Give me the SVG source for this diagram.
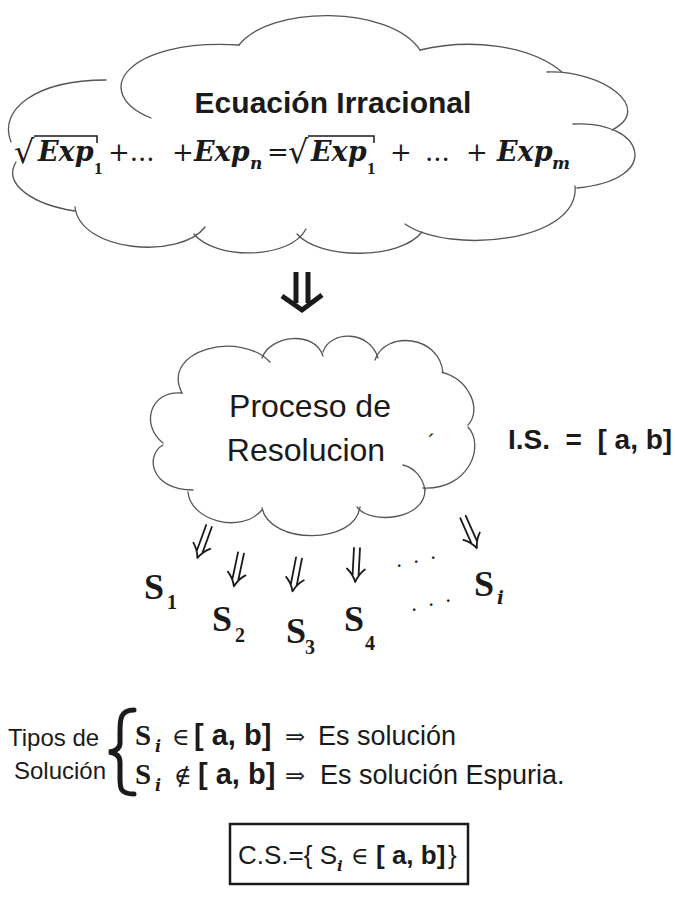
<svg xmlns="http://www.w3.org/2000/svg" width="675" height="902" viewBox="0 0 675 902">
<style>
.cloud{fill:none;stroke:#555;stroke-width:1.3;stroke-linecap:round}
.sans{font-family:"Liberation Sans",Arial,sans-serif;fill:#1a1a1a}
.b{font-weight:bold}
.mi{font-family:"DejaVu Serif","Liberation Serif",serif;font-weight:bold;font-style:italic;fill:#1a1a1a}
.mr{font-family:"DejaVu Serif","Liberation Serif",serif;fill:#1a1a1a}
.ms{font-family:"Liberation Serif","DejaVu Serif",serif;font-weight:bold;fill:#1a1a1a}
.arr{fill:none;stroke:#1a1a1a;stroke-width:1.8;stroke-linecap:round;stroke-linejoin:round}
</style>
<defs>
<g id="dbl">
<path class="arr" d="M-3,0 V28 M3,0 V28 M-9,21 Q-3,26 0,34 Q3,26 9,21"/>
</g>
</defs>
<rect width="675" height="902" fill="#fff"/>

<g id="cloud-top">
<path class="cloud" d="M151,118 C88,92 128,38 239,45"/>
<path class="cloud" d="M239,45 C270,5 390,5 420,50"/>
<path class="cloud" d="M420,50 C470,38 530,45 562,72"/>
<path class="cloud" d="M547,72 C602,70 655,108 612,130"/>
<path class="cloud" d="M573,124 C645,120 664,180 577,188"/>
<path class="cloud" d="M575,186 C580,242 450,255 405,224"/>
<path class="cloud" d="M422,232 C400,260 320,260 297,234"/>
<path class="cloud" d="M306,229 C290,260 215,260 194,234"/>
<path class="cloud" d="M205,227 C180,260 80,252 75,207"/>
<path class="cloud" d="M75,211 C35,205 2,185 16,162"/>
<path class="cloud" d="M11,142 C-2,110 35,80 106,80"/>
<text class="sans b" x="333" y="113" font-size="30" text-anchor="middle">Ecuación Irracional</text>
<g id="equation">
<text class="mr" x="14" y="163" font-size="32">√</text>
<polyline points="34,136 97,136 97,143" fill="none" stroke="#1a1a1a" stroke-width="1.5"/>
<text class="mi" x="38" y="161" font-size="27">Exp</text>
<text class="ms" x="94" y="174" font-size="17">1</text>
<text class="mr" x="108" y="161" font-size="26">+...</text>
<text class="mr" x="172" y="161" font-size="26">+</text>
<text class="mi" x="194" y="161" font-size="27">Exp</text>
<text class="mi" x="250" y="169" font-size="17">n</text>
<text class="mr" x="267" y="161" font-size="26">=</text>
<text class="mr" x="288" y="163" font-size="32">√</text>
<polyline points="308,136 374,136 374,143" fill="none" stroke="#1a1a1a" stroke-width="1.5"/>
<text class="mi" x="311" y="161" font-size="27">Exp</text>
<text class="ms" x="367" y="174" font-size="17">1</text>
<text class="mr" x="390" y="161" font-size="26">+</text>
<text class="mr" x="425" y="161" font-size="26">...</text>
<text class="mr" x="466" y="161" font-size="26">+</text>
<text class="mi" x="497" y="161" font-size="27">Exp</text>
<text class="mi" x="552" y="169" font-size="17">m</text>
</g>
</g>

<g id="cloud-proceso">
<path class="cloud" d="M182,393 C160,350 240,330 270,362"/>
<path class="cloud" d="M262,358 C270,335 315,330 323,356"/>
<path class="cloud" d="M323,352 C330,330 370,330 378,358"/>
<path class="cloud" d="M375,360 C385,330 440,335 443,373"/>
<path class="cloud" d="M442,372 C470,380 482,410 468,425"/>
<path class="cloud" d="M468,427 C485,445 470,490 423,488"/>
<path class="cloud" d="M403,465 C415,468 423,478 425,490"/>
<path class="cloud" d="M425,490 C425,520 370,525 357,507"/>
<path class="cloud" d="M360,507 C355,545 270,545 262,508"/>
<path class="cloud" d="M262,510 C240,535 190,520 188,492"/>
<path class="cloud" d="M193,490 C150,490 145,455 163,445"/>
<path class="cloud" d="M163,443 C140,425 150,390 182,393"/>
<text class="sans" x="310" y="417" font-size="32" text-anchor="middle">Proceso de</text>
<text class="sans" x="306" y="461" font-size="32" text-anchor="middle">Resolucion</text>
<text class="sans" x="428" y="450" font-size="22">´</text>
</g>

<g id="intervalo">
<text class="sans b" x="508" y="449" font-size="28" xml:space="preserve">I.S.  =  [ a, b]</text>
</g>

<g id="connectors">
<path d="M296,272 V303 M308,272 V303 M282,296 L302,310 L322,295" fill="none" stroke="#1a1a1a" stroke-width="5" stroke-linejoin="miter"/>
<use href="#dbl" transform="translate(209,526) rotate(20)"/>
<use href="#dbl" transform="translate(241,553) rotate(12)"/>
<use href="#dbl" transform="translate(299,558) rotate(11)"/>
<use href="#dbl" transform="translate(357,548) rotate(3)"/>
<use href="#dbl" transform="translate(463,517) rotate(-24)"/>
</g>

<g id="soluciones">
<text class="ms" x="144" y="599" font-size="36">S</text><text class="ms" x="167" y="609" font-size="20">1</text>
<text class="ms" x="212" y="631" font-size="36">S</text><text class="ms" x="235" y="642" font-size="20">2</text>
<text class="ms" x="286" y="643" font-size="36">S</text><text class="ms" x="305" y="654" font-size="20">3</text>
<text class="ms" x="344" y="631" font-size="36">S</text><text class="ms" x="365" y="650" font-size="20">4</text>
<text class="ms" x="474" y="596" font-size="36">S</text><text class="mi" x="497" y="604" font-size="18">i</text>
<text class="mr" font-size="20" x="396 413 430" y="567 563 559">...</text>
<text class="mr" font-size="20" x="411 428 445" y="611 606 602">...</text>
</g>

<g id="tipos">
<text class="sans" x="8" y="746" font-size="24">Tipos de</text>
<text class="sans" x="14" y="779" font-size="24">Solución</text>
<path d="M134,710 C120,710 120,720 120,732 L120,743 C120,748 116,751 109,752 C116,753 120,756 120,762 L120,778 C120,788 120,794 134,794" fill="none" stroke="#1a1a1a" stroke-width="5" stroke-linecap="round"/>
<text class="ms" x="135" y="745" font-size="29" font-weight="normal">S</text>
<text class="mi" x="155" y="752" font-size="16">i</text>
<text class="mr" x="172" y="745" font-size="24">∈</text>
<text class="sans b" x="194" y="745" font-size="29" xml:space="preserve">[ a, b]</text>
<text class="mr" x="285" y="745" font-size="24">⇒</text>
<text class="sans" x="318" y="745" font-size="27">Es solución</text>
<text class="ms" x="135" y="784" font-size="29" font-weight="normal">S</text>
<text class="mi" x="155" y="791" font-size="16">i</text>
<text class="mr" x="174" y="784" font-size="24">∉</text>
<text class="sans b" x="198" y="784" font-size="29" xml:space="preserve">[ a, b]</text>
<text class="mr" x="285" y="784" font-size="24">⇒</text>
<text class="sans" x="320" y="784" font-size="27">Es solución Espuria.</text>
</g>

<g id="conjunto">
<rect x="230" y="824" width="238" height="60" fill="none" stroke="#1a1a1a" stroke-width="2.5"/>
<text class="sans" x="238" y="864" font-size="26" xml:space="preserve">C.S.={ S</text>
<text class="mi" x="337" y="871" font-size="15">i</text>
<text class="mr" x="351" y="864" font-size="24">∈</text>
<text class="sans b" x="376" y="864" font-size="26" xml:space="preserve">[ a, b]</text>
<text class="sans" x="448" y="864" font-size="26">}</text>
</g>
</svg>
